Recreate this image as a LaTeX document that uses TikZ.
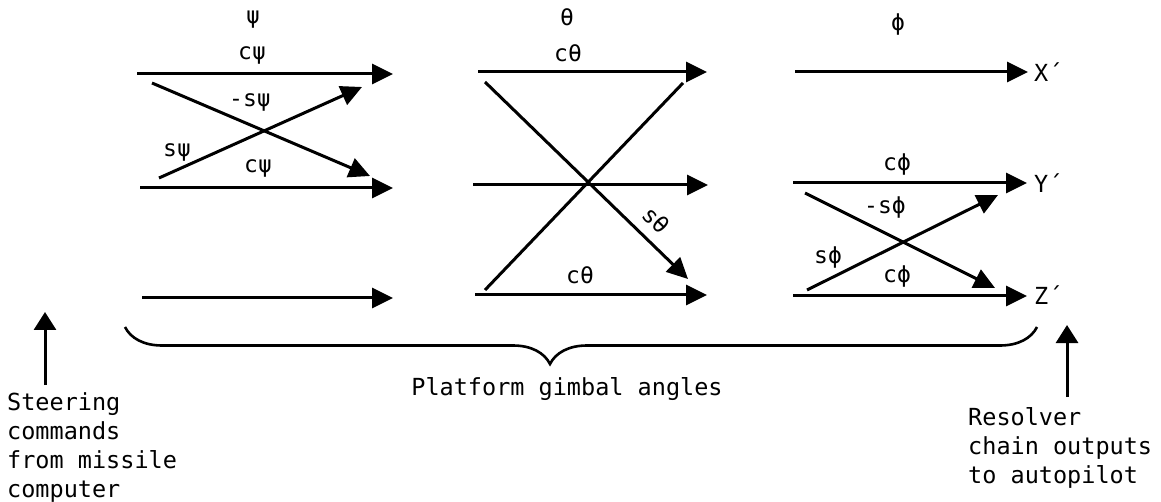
\documentclass[tikz,border=0pt]{standalone}
\usepackage{fontspec}
\setmainfont{DejaVu Sans Mono}
\usetikzlibrary{arrows.meta,decorations.pathreplacing}
\begin{document}
\begin{tikzpicture}[x=1pt,y=-1pt,
  sig/.style={line width=3pt,-{Triangle[length=21pt,width=20pt]}},
  plainline/.style={line width=3pt},
  uparrow/.style={line width=3pt,-{Triangle[length=18pt,width=22pt]}},
  lbl/.style={font=\fontsize{23}{27}\selectfont, inner sep=0pt},
  note/.style={font=\fontsize{23.5}{29}\selectfont, align=left, inner sep=0pt},
]
\useasboundingbox (0,0) rectangle (1161,502);

% ---- column psi ----
\node[lbl] (hpsi) at (253,20) {ψ};
\coordinate (p1s) at (137,74);  \coordinate (p1e) at (393,74);
\coordinate (p2s) at (140,188); \coordinate (p2e) at (393,188);
\coordinate (p3s) at (142,298); \coordinate (p3e) at (393,298);
\coordinate (pds) at (152,83);  \coordinate (pde) at (370,176);
\coordinate (pus) at (159,178); \coordinate (pue) at (362,87);
\draw[sig] (p1s) -- (p1e);
\draw[sig] (p2s) -- (p2e);
\draw[sig] (p3s) -- (p3e);
\draw[sig] (pds) -- (pde);
\draw[sig] (pus) -- (pue);
\node[lbl] (lp1) at (252,55) {cψ};
\node[lbl] (lp2) at (250,102) {-sψ};
\node[lbl] (lp3) at (177,152) {sψ};
\node[lbl] (lp4) at (258,168) {cψ};

% ---- column theta ----
\node[lbl] (htheta) at (567,17) {θ};
\coordinate (t1s) at (478,72);  \coordinate (t1e) at (707,72);
\coordinate (t2s) at (473,185); \coordinate (t2e) at (708,185);
\coordinate (t3s) at (475,295); \coordinate (t3e) at (707,295);
\coordinate (tds) at (485,82);  \coordinate (tde) at (688,279);
\coordinate (tus) at (485,290); \coordinate (tue) at (683,83);
\draw[sig] (t1s) -- (t1e);
\draw[sig] (t2s) -- (t2e);
\draw[sig] (t3s) -- (t3e);
\draw[sig] (tds) -- (tde);
\draw[plainline] (tus) -- (tue);
\node[lbl] (lt1) at (568,53) {cθ};
\node[lbl,rotate=-45] (lt2) at (656,220) {sθ};
\node[lbl] (lt3) at (580,275) {cθ};

% ---- column phi ----
\node[lbl] (hphi) at (898,25) {ϕ};
\coordinate (f1s) at (795,72);  \coordinate (f1e) at (1028,72);
\coordinate (f2s) at (793,183); \coordinate (f2e) at (1027,183);
\coordinate (f3s) at (793,296); \coordinate (f3e) at (1027,296);
\coordinate (fds) at (805,193); \coordinate (fde) at (995,288);
\coordinate (fus) at (807,290); \coordinate (fue) at (998,195);
\draw[sig] (f1s) -- (f1e);
\draw[sig] (f2s) -- (f2e);
\draw[sig] (f3s) -- (f3e);
\draw[sig] (fds) -- (fde);
\draw[sig] (fus) -- (fue);
\node[lbl] (lf1) at (897,165) {cϕ};
\node[lbl] (lf2) at (885,208) {-sϕ};
\node[lbl] (lf3) at (828,258) {sϕ};
\node[lbl] (lf4) at (897,277) {cϕ};
\node[note,anchor=west] (ox) at (1034,72) {X´};
\node[note,anchor=west] (oy) at (1034,183) {Y´};
\node[note,anchor=west] (oz) at (1034,295) {Z´};

% ---- brace ----
\coordinate (bl) at (125,327);
\coordinate (br) at (1037,327);
\draw[line width=2.6pt, decorate,
      decoration={brace, mirror, amplitude=37pt, aspect=0.466}] (bl) -- (br);
\node[note,anchor=base] (pga) at (567,395) {Platform gimbal angles};

% ---- input / output notes ----
\coordinate (ins) at (45,385);  \coordinate (ine) at (45,312);
\draw[uparrow] (ins) -- (ine);
\node[note,anchor=base west] (steer) at (7,497)
  {Steering\\commands\\from missile\\computer};
\coordinate (outs) at (1067,397); \coordinate (oute) at (1067,325);
\draw[uparrow] (outs) -- (oute);
\node[note,anchor=base west] (resolv) at (968,483)
  {Resolver\\chain outputs\\to autopilot};
\end{tikzpicture}
\end{document}
